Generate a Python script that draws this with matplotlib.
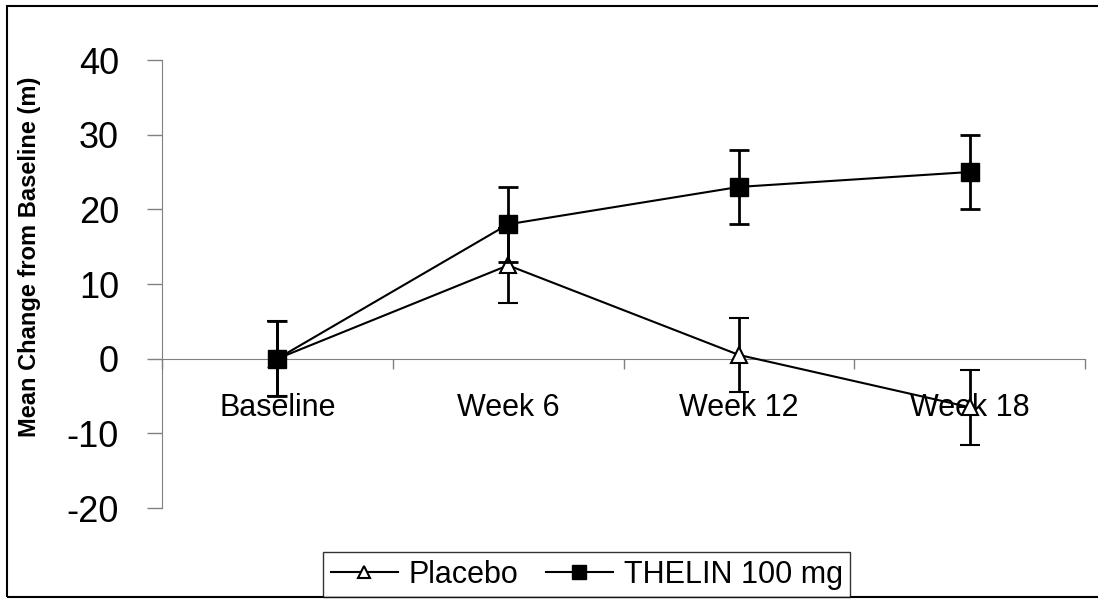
import matplotlib.pyplot as plt
import numpy as np
from matplotlib.patches import Rectangle
from matplotlib.lines import Line2D

plt.rcParams['font.family'] = ['Liberation Sans', 'DejaVu Sans']

categories = ['Baseline', 'Week 6', 'Week 12', 'Week 18']
placebo = [0, 12.5, 0.5, -6.5]
placebo_err = [5, 5, 5, 5]
thelin = [0, 18, 23, 25]
thelin_err = [5, 5, 5, 5]
yticks = [-20, -10, 0, 10, 20, 30, 40]

fig = plt.figure(figsize=(10.98, 5.99), dpi=100)
ax = fig.add_axes([162 / 1098, 1 - 508 / 599, 923 / 1098, 448 / 599])

x = np.arange(len(categories))

ax.errorbar(x, placebo, yerr=placebo_err, color='k', lw=1.5, elinewidth=2,
            capsize=7, capthick=2, marker='^', ms=11, mfc='white', mec='k',
            mew=1.5, zorder=3, clip_on=False)
ax.errorbar(x, thelin, yerr=thelin_err, color='k', lw=1.5, elinewidth=2,
            capsize=7, capthick=2, marker='s', ms=13, mfc='k', mec='k',
            zorder=4, clip_on=False)

ax.set_xlim(-0.5, len(categories) - 0.5)
ax.set_ylim(-20, 40)
ax.set_yticks(yticks)
ax.set_yticklabels([str(v) for v in yticks])

ax.set_xticks(x)
ax.set_xticklabels(categories)
ax.set_xticks(np.arange(-0.5, len(categories), 1), minor=True)
ax.tick_params(axis='x', which='major', length=0, pad=25, labelsize=22)
ax.tick_params(axis='x', which='minor', length=7, direction='out', color='#808080', width=1)
ax.tick_params(axis='y', length=11, width=1, color='#808080', pad=20, labelsize=26)
# markers go over the category labels, as in the original
ax.xaxis.set_zorder(1)

for s in ['top', 'right']:
    ax.spines[s].set_visible(False)
ax.spines['bottom'].set_position(('data', 0))
ax.spines['bottom'].set_color('#808080')
ax.spines['left'].set_color('#808080')

ax.set_ylabel('Mean Change from Baseline (m)', fontsize=17, fontweight='bold')
ax.yaxis.set_label_coords(-0.131, 0.56)

handles = [
    Line2D([], [], color='k', lw=1.5, marker='^', ms=9, mfc='white', mec='k', mew=1.5),
    Line2D([], [], color='k', lw=1.5, marker='s', ms=10, mfc='k', mec='k'),
]
leg = fig.legend(handles, ['Placebo', 'THELIN 100 mg'], loc='upper left',
                 bbox_to_anchor=(323 / 1098, 1 - 552 / 599), ncol=2,
                 fontsize=22, frameon=True, fancybox=False, edgecolor='k',
                 borderpad=0.25, handlelength=2.2, handletextpad=0.35,
                 columnspacing=0.9, borderaxespad=0)
leg.get_frame().set_linewidth(1)

fig.patches.append(Rectangle((7 / 1098, 2 / 599), 1.2, 1 - 8 / 599,
                             transform=fig.transFigure, fill=False,
                             edgecolor='k', lw=1.5))

fig.savefig('out.png', dpi=100)
